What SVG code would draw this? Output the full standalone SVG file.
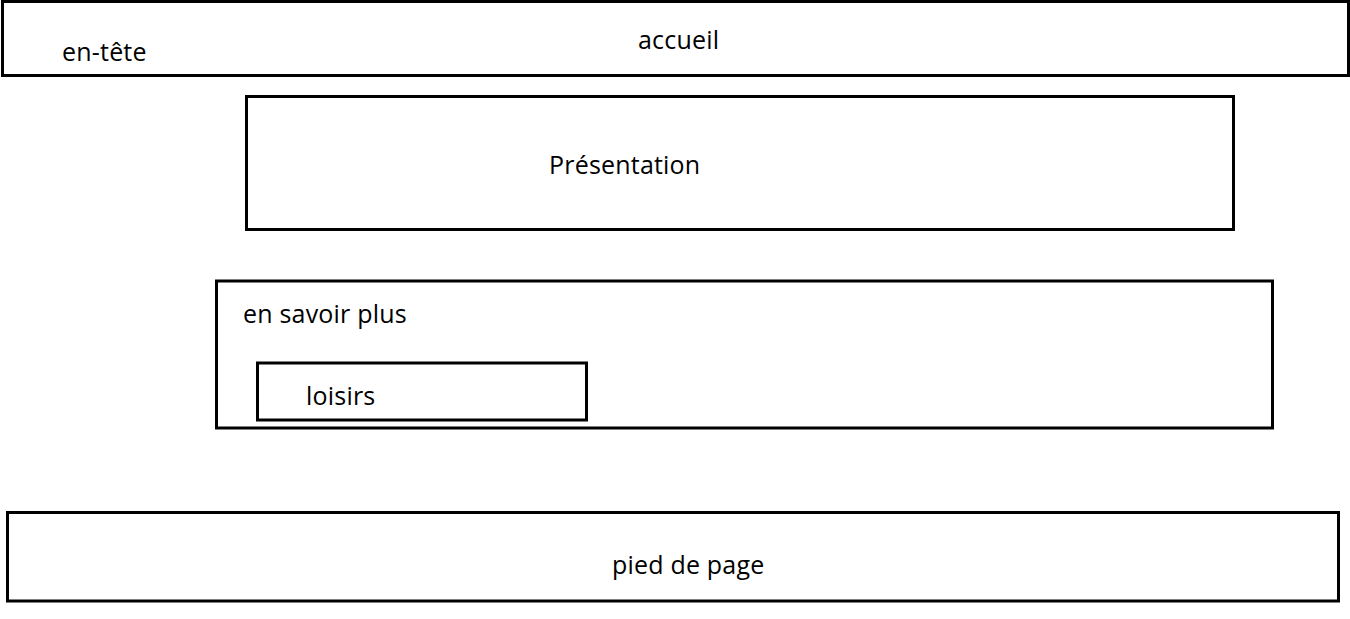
<svg xmlns="http://www.w3.org/2000/svg" width="1350" height="619" viewBox="0 0 1350 619">
  <style>
    .box { fill: none; stroke: #000; stroke-width: 3; }
    .lbl { font-family: "Open Sans", "Noto Sans", "Liberation Sans", sans-serif; font-size: 25px; letter-spacing: 0.2px; fill: #000; }
  </style>
  <rect width="1350" height="619" fill="#fff"/>
  <g id="entete">
    <rect class="box" x="2.5" y="1.5" width="1346" height="74"/>
    <text class="lbl" x="62" y="61">en-tête</text>
    <text class="lbl" x="638" y="49">accueil</text>
  </g>
  <g id="presentation">
    <rect class="box" x="246.5" y="96.5" width="987" height="133"/>
    <text class="lbl" x="549" y="174">Présentation</text>
  </g>
  <g id="en-savoir-plus">
    <rect class="box" x="216.5" y="281" width="1056" height="147"/>
    <text class="lbl" x="243" y="323">en savoir plus</text>
  </g>
  <g id="loisirs">
    <rect class="box" x="257.5" y="363" width="329" height="57"/>
    <text class="lbl" x="306" y="405">loisirs</text>
  </g>
  <g id="pied-de-page">
    <rect class="box" x="7.5" y="512.5" width="1331" height="88.5"/>
    <text class="lbl" x="612" y="574">pied de page</text>
  </g>
  <g id="connecteurs"/>
</svg>
